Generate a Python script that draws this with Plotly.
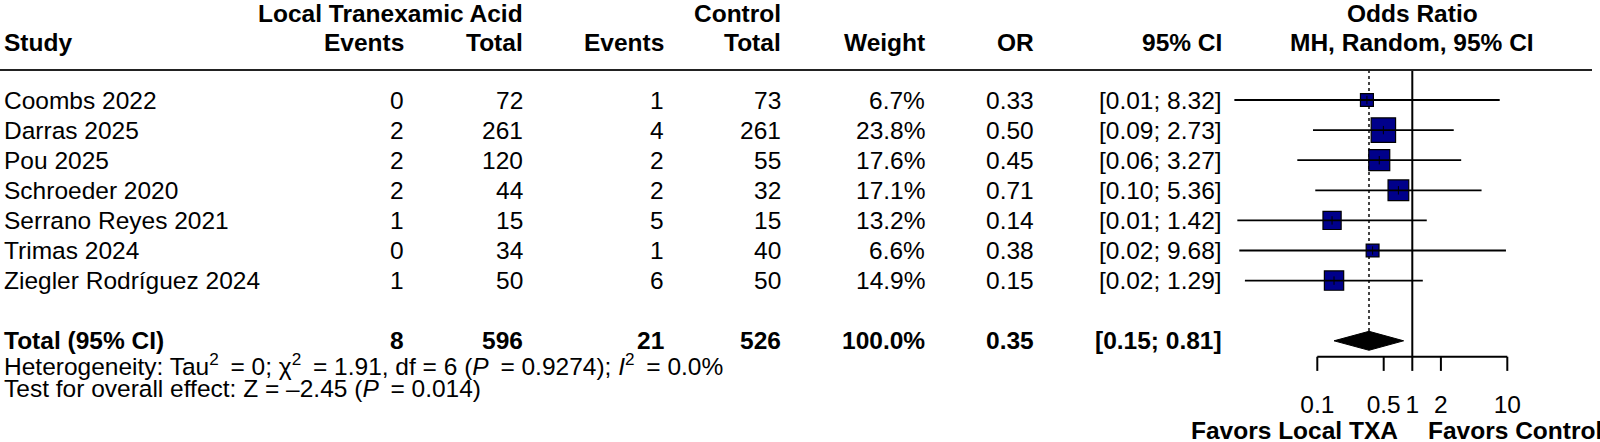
import plotly.graph_objects as go

# ---------------- data ----------------
studies = ["Coombs 2022", "Darras 2025", "Pou 2025", "Schroeder 2020",
           "Serrano Reyes 2021", "Trimas 2024", "Ziegler Rodríguez 2024"]
tx_events = [0, 2, 2, 2, 1, 0, 1]
tx_total = [72, 261, 120, 44, 15, 34, 50]
ct_events = [1, 4, 2, 2, 5, 1, 6]
ct_total = [73, 261, 55, 32, 15, 40, 50]
weights = [6.7, 23.8, 17.6, 17.1, 13.2, 6.6, 14.9]
or_est = [0.333, 0.496, 0.449, 0.714, 0.143, 0.382, 0.150]
ci_lower = [0.0134, 0.0901, 0.0616, 0.0952, 0.0144, 0.0151, 0.0173]
ci_upper = [8.32, 2.73, 3.27, 5.36, 1.42, 9.68, 1.29]

total_tx_events = 8
total_tx_total = 596
total_ct_events = 21
total_ct_total = 526
total_weight = 100.0
total_or = 0.35
total_lower = 0.15
total_upper = 0.81

tick_vals = [0.1, 0.5, 1, 2, 10]
tick_labels = ["0.1", "0.5", "1", "2", "10"]

TS = "\u2009"  # thin space
heterogeneity = (f"Heterogeneity: Tau<sup>2</sup>{TS} = 0; χ<sup>2</sup>{TS} = 1.91, df = 6 "
                 f"(<i>P</i>{TS} = 0.9274); <i>I</i><sup>2</sup>{TS} = 0.0%")
overall = f"Test for overall effect: Z = –2.45 (<i>P</i>{TS} = 0.014)"
label_left = "Favors Local TXA"
label_right = "Favors Control"

# ---------------- layout helpers ----------------
W, H = 1600, 442
FONT = "Liberation Sans, Arial, Helvetica, sans-serif"
FS = 24.5
total_row = len(studies) + 1
rows = list(range(len(studies)))

fig = go.Figure()

annotations = []


def ann(xpx, row, text, anchor="right", bold=False, size=FS):
    annotations.append(dict(
        x=xpx / W, xref="paper", y=row, yref="y",
        text=f"<b>{text}</b>" if bold else text,
        showarrow=False, xanchor=anchor, yanchor="middle",
        font=dict(family=FONT, size=size, color="black"), borderpad=0))


# column right edges (pixels)
C_TXE, C_TXT, C_CTE, C_CTT, C_W, C_OR, C_CI = 405, 524, 665, 782, 926, 1035, 1223
X_STUDY = 3
X_NULL = 1412

# headers
HR1, HR2 = -2.89, -1.9
ann(C_TXT, HR1, "Local Tranexamic Acid", bold=True)
ann(C_CTT, HR1, "Control", bold=True)
ann(X_NULL, HR1, "Odds Ratio", anchor="center", bold=True)
ann(X_STUDY, HR2, "Study", anchor="left", bold=True)
for xp, t in [(C_TXE, "Events"), (C_TXT, "Total"), (C_CTE, "Events"),
              (C_CTT, "Total"), (C_W, "Weight"), (C_OR, "OR"), (C_CI, "95% CI")]:
    ann(xp, HR2, t, bold=True)
ann(X_NULL, HR2, "MH, Random, 95% CI", anchor="center", bold=True)

# study rows
for i in rows:
    ann(X_STUDY, i, studies[i], anchor="left")
    ann(C_TXE, i, str(tx_events[i]))
    ann(C_TXT, i, str(tx_total[i]))
    ann(C_CTE, i, str(ct_events[i]))
    ann(C_CTT, i, str(ct_total[i]))
    ann(C_W, i, f"{weights[i]:.1f}%")
    ann(C_OR, i, f"{or_est[i]:.2f}")
    ann(C_CI, i, f"[{ci_lower[i]:.2f}; {ci_upper[i]:.2f}]")

# total row
ann(X_STUDY, total_row, "Total (95% CI)", anchor="left", bold=True)
ann(C_TXE, total_row, str(total_tx_events), bold=True)
ann(C_TXT, total_row, str(total_tx_total), bold=True)
ann(C_CTE, total_row, str(total_ct_events), bold=True)
ann(C_CTT, total_row, str(total_ct_total), bold=True)
ann(C_W, total_row, f"{total_weight:.1f}%", bold=True)
ann(C_OR, total_row, f"{total_or:.2f}", bold=True)
ann(C_CI, total_row, f"[{total_lower:.2f}; {total_upper:.2f}]", bold=True)

ann(X_STUDY, total_row + 0.79, heterogeneity, anchor="left")
ann(X_STUDY, total_row + 1.6, overall, anchor="left")

# ---------------- forest graphics ----------------
rule_row = -1.0
axis_row = 8.53
tick_end_row = 9.0

# dotted line at pooled estimate
fig.add_trace(go.Scatter(x=[total_or, total_or], y=[rule_row, total_row - 0.31],
                         mode="lines", line=dict(color="#444444", width=2, dash="dot"),
                         hoverinfo="skip"))
# null line
fig.add_trace(go.Scatter(x=[1, 1], y=[rule_row, axis_row], mode="lines",
                         line=dict(color="black", width=2), hoverinfo="skip"))

# squares
fig.add_trace(go.Scatter(
    x=or_est, y=rows, mode="markers",
    marker=dict(symbol="square", size=[5.0 * w ** 0.5 for w in weights],
                color="#00008B", opacity=1, line=dict(color="black", width=1.2)),
    hoverinfo="skip"))

# CI lines
cx, cy = [], []
for i in rows:
    cx += [ci_lower[i], ci_upper[i], None]
    cy += [i, i, None]
fig.add_trace(go.Scatter(x=cx, y=cy, mode="lines",
                         line=dict(color="black", width=1.8), hoverinfo="skip"))
# inside ticks
fig.add_trace(go.Scatter(x=or_est, y=rows, mode="markers",
                         marker=dict(symbol="line-ns", size=6, opacity=1,
                                     line=dict(color="black", width=1)),
                         hoverinfo="skip"))

# diamond
h = 0.315
fig.add_trace(go.Scatter(
    x=[total_lower, total_or, total_upper, total_or, total_lower],
    y=[total_row, total_row - h, total_row, total_row + h, total_row],
    mode="lines", fill="toself", fillcolor="black",
    line=dict(color="black", width=1), hoverinfo="skip"))

# axis line and ticks
fig.add_trace(go.Scatter(x=[tick_vals[0], tick_vals[-1]], y=[axis_row, axis_row],
                         mode="lines", line=dict(color="black", width=2),
                         hoverinfo="skip"))
tx, ty = [], []
for v in tick_vals:
    tx += [v, v, None]
    ty += [axis_row, tick_end_row, None]
fig.add_trace(go.Scatter(x=tx, y=ty, mode="lines",
                         line=dict(color="black", width=2), hoverinfo="skip"))
fig.add_trace(go.Scatter(x=tick_vals, y=[10.18] * len(tick_vals), mode="text",
                         text=tick_labels, textposition="middle center",
                         textfont=dict(family=FONT, size=FS, color="black"),
                         hoverinfo="skip"))

ann(1399, 10.97, label_left, bold=True)
ann(1427, 10.97, label_right, anchor="left", bold=True)

# header rule
shapes = [dict(type="line", xref="paper", yref="y", x0=0, x1=1592 / W,
               y0=rule_row, y1=rule_row, line=dict(color="#222222", width=2))]

px_per_decade = 95.0
null_px = 1412.3
fig.update_layout(
    width=W, height=H, autosize=False,
    margin=dict(l=0, r=0, t=0, b=0, pad=0),
    paper_bgcolor="white", plot_bgcolor="white",
    showlegend=False,
    xaxis=dict(type="log", range=[-null_px / px_per_decade, (W - null_px) / px_per_decade],
               visible=False, domain=[0, 1]),
    yaxis=dict(range=[(H - 100) / 30.1, -100 / 30.1], visible=False, domain=[0, 1]),
    annotations=annotations, shapes=shapes,
)

fig.write_html(
    "out.html",
    config={"displayModeBar": False},
    post_script="document.body.style.margin='0';document.body.style.padding='0';"
                "document.body.style.overflow='hidden';",
)
